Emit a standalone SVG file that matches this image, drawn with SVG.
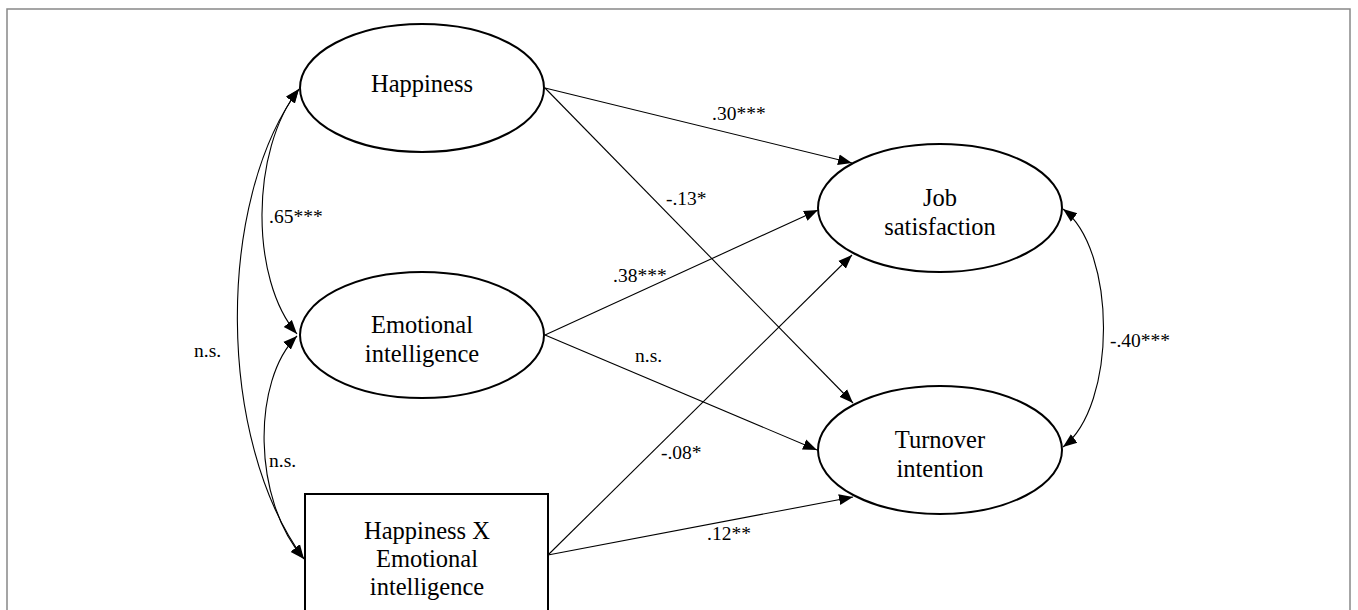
<svg xmlns="http://www.w3.org/2000/svg" width="1358" height="610" viewBox="0 0 1358 610" font-family="Liberation Serif, serif">
<defs>
<marker id="ah" markerUnits="userSpaceOnUse" markerWidth="14" markerHeight="12" viewBox="0 0 13 10" refX="13" refY="5" orient="auto-start-reverse">
<path d="M0,0 L13,5 L0,10 z" fill="#000"/>
</marker>
</defs>
<style>
.node{fill:#fff;stroke:#000;stroke-width:2}
.nt{font-family:'Liberation Serif',serif;font-size:24.5px;fill:#000;text-anchor:middle}
.lab{font-family:'Liberation Serif',serif;font-size:19.5px;fill:#000}
.edge{fill:none;stroke:#000;stroke-width:1.1}
</style>
<rect x="7" y="9" width="1343" height="640" fill="#fff" stroke="#888" stroke-width="1.5"/>
<g id="connectors">
<path class="edge" d="M545,88 L852,163" marker-end="url(#ah)"/>
<path class="edge" d="M545,88 L853,403" marker-end="url(#ah)"/>
<path class="edge" d="M545,335 L818,210" marker-end="url(#ah)"/>
<path class="edge" d="M545,335 L817,450" marker-end="url(#ah)"/>
<path class="edge" d="M548,555 L852,255" marker-end="url(#ah)"/>
<path class="edge" d="M548,555 L853,497" marker-end="url(#ah)"/>
<path class="edge" d="M299,89 C250,150 250,280 297,334" marker-start="url(#ah)" marker-end="url(#ah)"/>
<path class="edge" d="M299,89 C216,200 216,440 304,559" marker-start="url(#ah)" marker-end="url(#ah)"/>
<path class="edge" d="M297,336 C252,380 252,500 304,559" marker-start="url(#ah)" marker-end="url(#ah)"/>
<path class="edge" d="M1063,209 C1117,250 1117,406 1063,447" marker-start="url(#ah)" marker-end="url(#ah)"/>
<text class="lab" x="712" y="120">.30***</text>
<text class="lab" x="666" y="205">-.13*</text>
<text class="lab" x="613" y="282">.38***</text>
<text class="lab" x="635" y="362">n.s.</text>
<text class="lab" x="661" y="459">-.08*</text>
<text class="lab" x="707" y="540">.12**</text>
<text class="lab" x="269" y="223">.65***</text>
<text class="lab" x="194" y="357">n.s.</text>
<text class="lab" x="269" y="467">n.s.</text>
<text class="lab" x="1110" y="347">-.40***</text>
</g>
<g id="happiness">
<ellipse class="node" cx="422" cy="88" rx="122" ry="64"/>
<text class="nt" x="422" y="92">Happiness</text>
</g>
<g id="emotional-intelligence">
<ellipse class="node" cx="422" cy="335" rx="122" ry="63"/>
<text class="nt" x="422" y="333">Emotional</text>
<text class="nt" x="422" y="362">intelligence</text>
</g>
<g id="interaction">
<rect class="node" x="305" y="494" width="243" height="140"/>
<text class="nt" x="427" y="539">Happiness X</text>
<text class="nt" x="427" y="567">Emotional</text>
<text class="nt" x="427" y="595">intelligence</text>
</g>
<g id="job-satisfaction">
<ellipse class="node" cx="940" cy="208" rx="122" ry="64"/>
<text class="nt" x="940" y="206">Job</text>
<text class="nt" x="940" y="235">satisfaction</text>
</g>
<g id="turnover-intention">
<ellipse class="node" cx="940" cy="450" rx="122" ry="64"/>
<text class="nt" x="940" y="448">Turnover</text>
<text class="nt" x="940" y="477">intention</text>
</g>
</svg>
